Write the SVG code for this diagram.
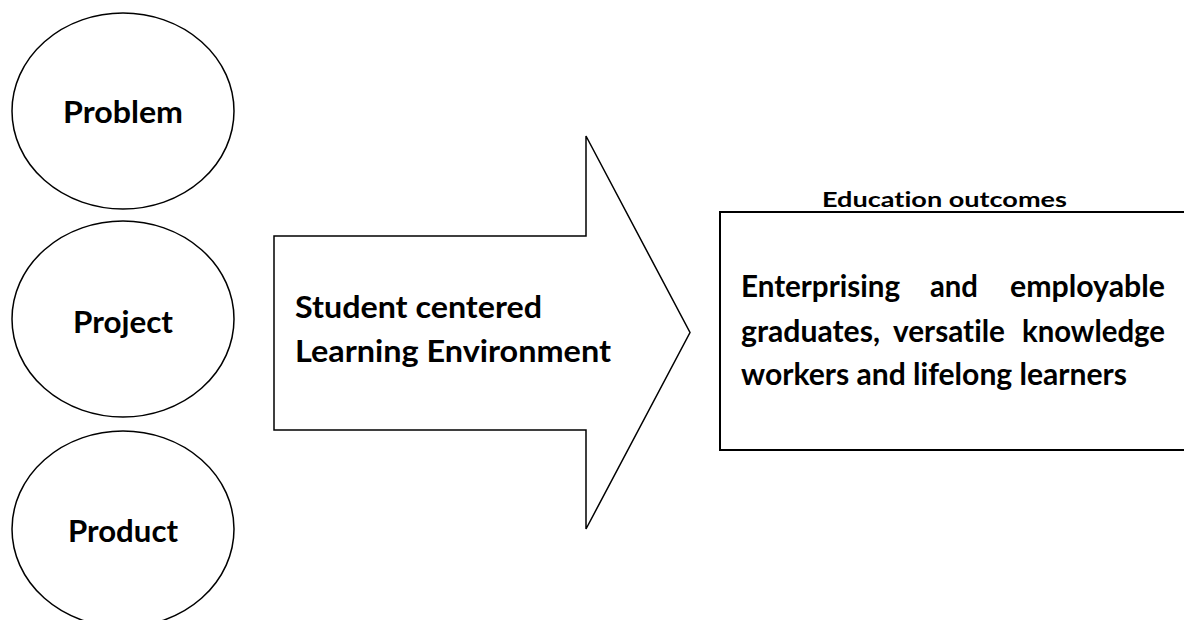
<svg xmlns="http://www.w3.org/2000/svg" width="1184" height="620" viewBox="0 0 1184 620">
  <style>
    .shape { fill: #ffffff; stroke: #000000; stroke-width: 1.5; }
    .box { fill: #ffffff; stroke: #000000; stroke-width: 2; }
    .label, .title { font-family: Lato, "Open Sans", "Liberation Sans", sans-serif; font-weight: 700; fill: #000000; font-variant-ligatures: none; font-feature-settings: "liga" 0, "clig" 0; }
    .label { font-size: 30.5px; }
    .title { font-size: 20px; }
  </style>
  <rect width="1184" height="620" fill="#ffffff"/>

  <!-- three input ellipses -->
  <g id="node-problem">
    <ellipse class="shape" cx="123" cy="111" rx="111" ry="98"/>
    <text class="label" x="123" y="123" text-anchor="middle" textLength="120" lengthAdjust="spacingAndGlyphs">Problem</text>
  </g>
  <g id="node-project">
    <ellipse class="shape" cx="123" cy="319" rx="111" ry="98"/>
    <text class="label" x="123" y="333" text-anchor="middle" textLength="100" lengthAdjust="spacingAndGlyphs">Project</text>
  </g>
  <g id="node-product">
    <ellipse class="shape" cx="123" cy="529" rx="111" ry="98"/>
    <text class="label" x="123" y="542" text-anchor="middle" textLength="110" lengthAdjust="spacingAndGlyphs">Product</text>
  </g>

  <!-- block arrow: learning environment -->
  <g id="node-environment">
    <polygon class="shape" points="274,236 586,236 586,136 690,332.5 586,529 586,430 274,430"/>
    <text class="label" x="295" y="318" textLength="247" lengthAdjust="spacingAndGlyphs">Student centered</text>
    <text class="label" x="295" y="362" textLength="316" lengthAdjust="spacingAndGlyphs">Learning Environment</text>
  </g>

  <g id="connectors"></g>

  <!-- outcomes box -->
  <g id="node-outcomes">
    <text class="title" x="822" y="207" textLength="245" lengthAdjust="spacingAndGlyphs">Education outcomes</text>
    <rect class="box" x="720" y="212" width="480" height="238"/>
    <text class="label" x="741" y="297" textLength="159" lengthAdjust="spacingAndGlyphs">Enterprising</text>
    <text class="label" x="930" y="297" textLength="48" lengthAdjust="spacingAndGlyphs">and</text>
    <text class="label" x="1010" y="297" textLength="155" lengthAdjust="spacingAndGlyphs">employable</text>
    <text class="label" x="741" y="342" textLength="139" lengthAdjust="spacingAndGlyphs">graduates,</text>
    <text class="label" x="893" y="342" textLength="112" lengthAdjust="spacingAndGlyphs">versatile</text>
    <text class="label" x="1022" y="342" textLength="143" lengthAdjust="spacingAndGlyphs">knowledge</text>
    <text class="label" x="741" y="385" textLength="386" lengthAdjust="spacingAndGlyphs">workers and lifelong learners</text>
  </g>
</svg>
